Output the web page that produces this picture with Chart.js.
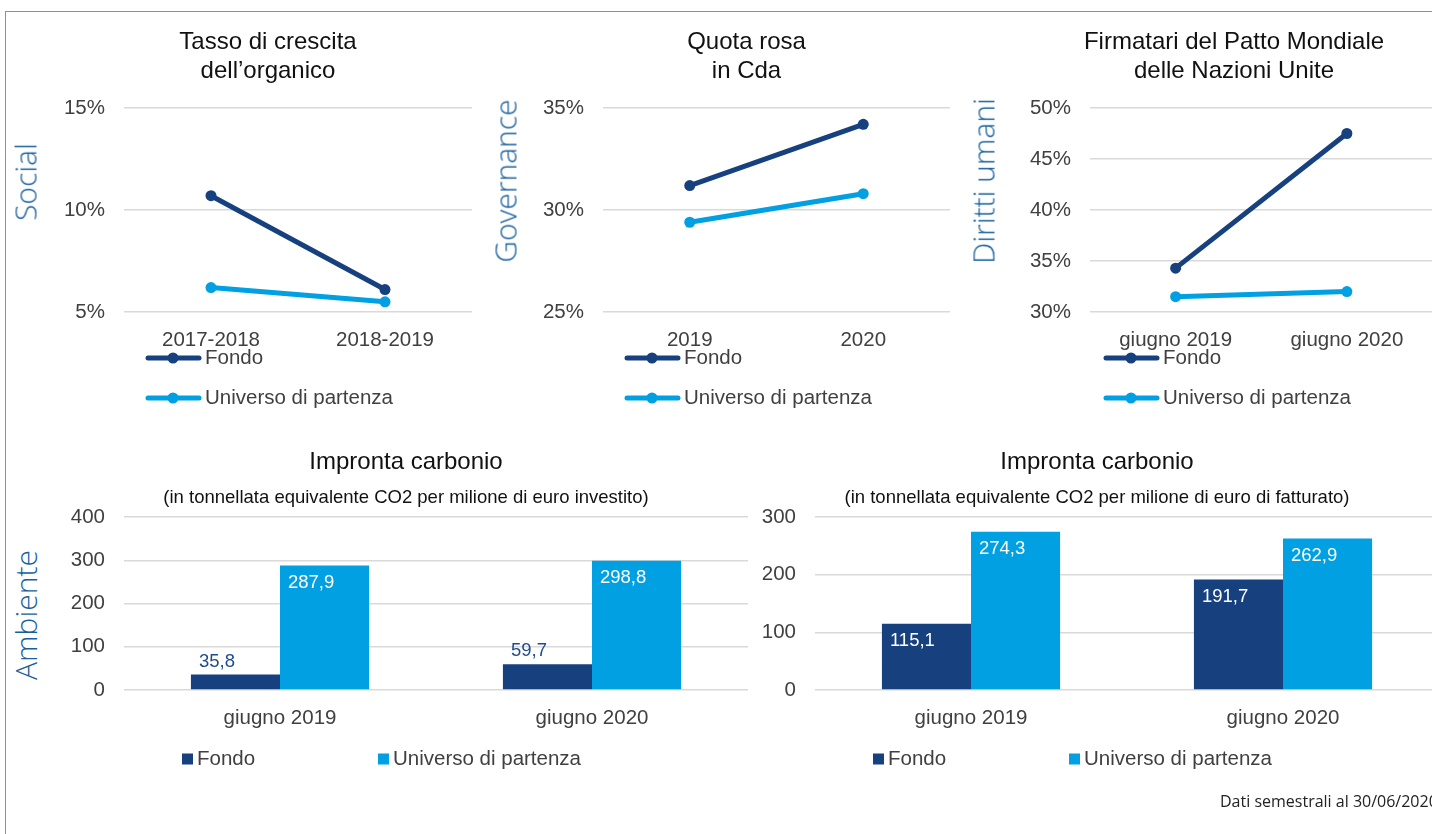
<!DOCTYPE html>
<html lang="it">
<head>
<meta charset="utf-8">
<title>Indicatori ESG</title>
<script src="https://cdn.jsdelivr.net/npm/chart.js@4.4.1/dist/chart.umd.min.js"></script>
<style>
  html, body { margin: 0; padding: 0; background: #fff; }
  body { width: 1432px; height: 834px; overflow: hidden; position: relative; }
  canvas { position: absolute; }
  .cornice { position: absolute; left: 5px; top: 11px; width: 1440px; height: 840px;
             border-left: 1px solid #7d93b6; border-top: 1px solid #7d93b6; }
  .asse { position: absolute; transform: translate(-50%, -50%) rotate(-90deg); white-space: nowrap;
          font-family: "Open Sans", sans-serif; font-weight: 300; font-size: 30px; color: #175f9e; }
  .nota { position: absolute; left: 1220px; top: 790px; white-space: nowrap;
          font-family: "Open Sans", sans-serif; font-size: 16px; color: #222; }
</style>
</head>
<body>
<div class="cornice"></div>

<canvas id="graficoOrganico" width="460" height="410" style="left:40px;top:20px"></canvas>
<canvas id="graficoQuotaRosa" width="460" height="410" style="left:518px;top:20px"></canvas>
<canvas id="graficoPatto" width="422" height="410" style="left:1016px;top:20px"></canvas>
<canvas id="graficoCarbonioInv" width="686" height="360" style="left:62px;top:440px"></canvas>
<canvas id="graficoCarbonioFatt" width="684" height="360" style="left:755px;top:440px"></canvas>

<div class="asse" style="left:25px;top:182px">Social</div>
<div class="asse" style="left:505px;top:181px">Governance</div>
<div class="asse" style="left:983px;top:181px">Diritti umani</div>
<div class="asse" style="left:25px;top:615px">Ambiente</div>
<div class="nota">Dati semestrali al 30/06/2020</div>

<script>
// Dati
const serieNomi = ['Fondo', 'Universo di partenza'];

const periodiOrganico = ['2017-2018', '2018-2019'];
const organicoFondo = [10.7, 6.1];
const organicoUniverso = [6.2, 5.5];

const anniCda = ['2019', '2020'];
const quotaRosaFondo = [31.2, 34.2];
const quotaRosaUniverso = [29.4, 30.8];

const periodiGiugno = ['giugno 2019', 'giugno 2020'];
const pattoFondo = [34.3, 47.5];
const pattoUniverso = [31.5, 32.0];

const carbonioInvestitoFondo = [35.8, 59.7];
const carbonioInvestitoUniverso = [287.9, 298.8];
const carbonioFatturatoFondo = [115.1, 191.7];
const carbonioFatturatoUniverso = [274.3, 262.9];

// Colori
const BLU_SCURO = '#17407f';
const AZZURRO = '#00a0e2';
const GRIGIO_TESTO = '#404040';
const FONT = '"Liberation Sans", Arial, sans-serif';

Chart.defaults.font.family = FONT;
Chart.defaults.color = GRIGIO_TESTO;

// Legenda disegnata a mano (linea con punto / quadratino)
const legendaManuale = {
  id: 'legendaManuale',
  afterDraw(chart, args, opts) {
    if (!opts || !opts.tipo) return;
    const { ctx, chartArea } = chart;
    ctx.save();
    ctx.font = '20.5px ' + FONT;
    ctx.textBaseline = 'middle';
    ctx.textAlign = 'left';
    chart.data.datasets.forEach((ds, i) => {
      const x = chartArea.left + opts.x + i * (opts.dx || 0);
      const y = chartArea.bottom + opts.y + i * (opts.dy || 0);
      const colore = ds.borderColor || ds.backgroundColor;
      if (opts.tipo === 'linea') {
        ctx.strokeStyle = colore;
        ctx.lineWidth = 5;
        ctx.lineCap = 'round';
        ctx.beginPath();
        ctx.moveTo(x + 2, y);
        ctx.lineTo(x + 53, y);
        ctx.stroke();
        ctx.fillStyle = colore;
        ctx.beginPath();
        ctx.arc(x + 27, y, 5.5, 0, Math.PI * 2);
        ctx.fill();
        ctx.fillStyle = GRIGIO_TESTO;
        ctx.fillText(ds.label, x + 59, y);
      } else {
        ctx.fillStyle = colore;
        ctx.fillRect(x, y - 5.5, 11, 11);
        ctx.fillStyle = GRIGIO_TESTO;
        ctx.fillText(ds.label, x + 15, y);
      }
    });
    ctx.restore();
  }
};

// Etichette dei valori sulle barre
const etichetteValori = {
  id: 'etichetteValori',
  afterDatasetsDraw(chart, args, opts) {
    if (!opts || !opts.attivo) return;
    const { ctx } = chart;
    ctx.save();
    ctx.font = '18.5px ' + FONT;
    ctx.textAlign = 'left';
    ctx.textBaseline = 'alphabetic';
    chart.data.datasets.forEach((ds, i) => {
      const sopra = opts.sopra && opts.sopra[i];
      chart.getDatasetMeta(i).data.forEach((barra, j) => {
        const testo = ds.data[j].toFixed(1).replace('.', ',');
        const x = barra.x - barra.width / 2 + 8;
        const y = sopra ? barra.y - 8 : barra.y + 22.5;
        ctx.fillStyle = sopra ? '#1f4b8f' : '#ffffff';
        ctx.fillText(testo, x, y);
      });
    });
    ctx.restore();
  }
};

// Grafico a linee (parte alta)
function creaLinea(id, titolo, categorie, fondo, universo, asse, padding, legendaX) {
  return new Chart(document.getElementById(id), {
    type: 'line',
    data: {
      labels: categorie,
      datasets: [
        { label: serieNomi[0], data: fondo, borderColor: BLU_SCURO, backgroundColor: BLU_SCURO },
        { label: serieNomi[1], data: universo, borderColor: AZZURRO, backgroundColor: AZZURRO }
      ]
    },
    options: {
      responsive: false,
      animation: false,
      layout: { padding: padding },
      elements: {
        line: { borderWidth: 5, tension: 0 },
        point: { radius: 5.5, hoverRadius: 5.5, borderWidth: 0 }
      },
      plugins: {
        legend: { display: false },
        tooltip: { enabled: false },
        title: {
          display: true, text: titolo, color: '#111',
          font: { size: 24, weight: 'normal' }, padding: { top: 8, bottom: 22.4 }
        },
        legendaManuale: { tipo: 'linea', x: legendaX, y: 46, dy: 40 }
      },
      scales: {
        x: {
          offset: true,
          grid: { display: false },
          border: { display: false },
          ticks: { padding: 8, color: GRIGIO_TESTO, font: { size: 20.5 } },
          afterFit: s => { s.height = 60; }
        },
        y: {
          min: asse[0], max: asse[1],
          grid: { color: '#d9d9d9', lineWidth: 1.5, drawTicks: false },
          border: { display: false },
          ticks: { stepSize: asse[2], padding: 19, color: GRIGIO_TESTO, font: { size: 20.5 }, callback: v => v + '%' },
          afterFit: s => { s.width = 60; }
        }
      }
    },
    plugins: [legendaManuale]
  });
}

// Grafico a barre (parte bassa)
function creaBarre(id, sottotitolo, fondo, universo, massimo, padding, sopra) {
  return new Chart(document.getElementById(id), {
    type: 'bar',
    data: {
      labels: periodiGiugno,
      datasets: [
        { label: serieNomi[0], data: fondo, backgroundColor: BLU_SCURO },
        { label: serieNomi[1], data: universo, backgroundColor: AZZURRO }
      ]
    },
    options: {
      responsive: false,
      animation: false,
      layout: { padding: padding },
      datasets: { bar: { barPercentage: 1, categoryPercentage: 0.571, borderWidth: 0 } },
      plugins: {
        legend: { display: false },
        tooltip: { enabled: false },
        title: {
          display: true, text: 'Impronta carbonio', color: '#111',
          font: { size: 24, weight: 'normal' }, padding: { top: 8, bottom: 10.1 }
        },
        subtitle: {
          display: true, text: sottotitolo, color: '#111',
          font: { size: 18.5 }, padding: { top: 0, bottom: 7.9 }
        },
        legendaManuale: { tipo: 'quadrato', x: 58, y: 69, dx: 196 },
        etichetteValori: { attivo: true, sopra: sopra }
      },
      scales: {
        x: {
          grid: { display: false },
          border: { display: false },
          ticks: { padding: 8, color: GRIGIO_TESTO, font: { size: 20.5 } },
          afterFit: s => { s.height = 60; }
        },
        y: {
          min: 0, max: massimo,
          grid: { color: '#d9d9d9', lineWidth: 1.5, drawTicks: false },
          border: { display: false },
          ticks: { stepSize: 100, padding: 19, color: GRIGIO_TESTO, font: { size: 20.5 } },
          afterFit: s => { s.width = 60; }
        }
      }
    },
    plugins: [legendaManuale, etichetteValori]
  });
}

creaLinea('graficoOrganico', ['Tasso di crescita', 'dell’organico'], periodiOrganico,
  organicoFondo, organicoUniverso, [5, 15, 5], { left: 24, right: 28, top: 0, bottom: 58 }, 22);
creaLinea('graficoQuotaRosa', ['Quota rosa', 'in Cda'], anniCda,
  quotaRosaFondo, quotaRosaUniverso, [25, 35, 5], { left: 25, right: 28, top: 0, bottom: 58 }, 22);
creaLinea('graficoPatto', ['Firmatari del Patto Mondiale', 'delle Nazioni Unite'], periodiGiugno,
  pattoFondo, pattoUniverso, [30, 50, 5], { left: 14, right: 0, top: 0, bottom: 58 }, 14);

creaBarre('graficoCarbonioInv', '(in tonnellata equivalente CO2 per milione di euro investito)',
  carbonioInvestitoFondo, carbonioInvestitoUniverso, 400, { left: 2, right: 0, top: 0, bottom: 50 }, [true, false]);
creaBarre('graficoCarbonioFatt', '(in tonnellata equivalente CO2 per milione di euro di fatturato)',
  carbonioFatturatoFondo, carbonioFatturatoUniverso, 300, { left: 0, right: 0, top: 0, bottom: 50 }, [false, false]);
</script>
</body>
</html>
